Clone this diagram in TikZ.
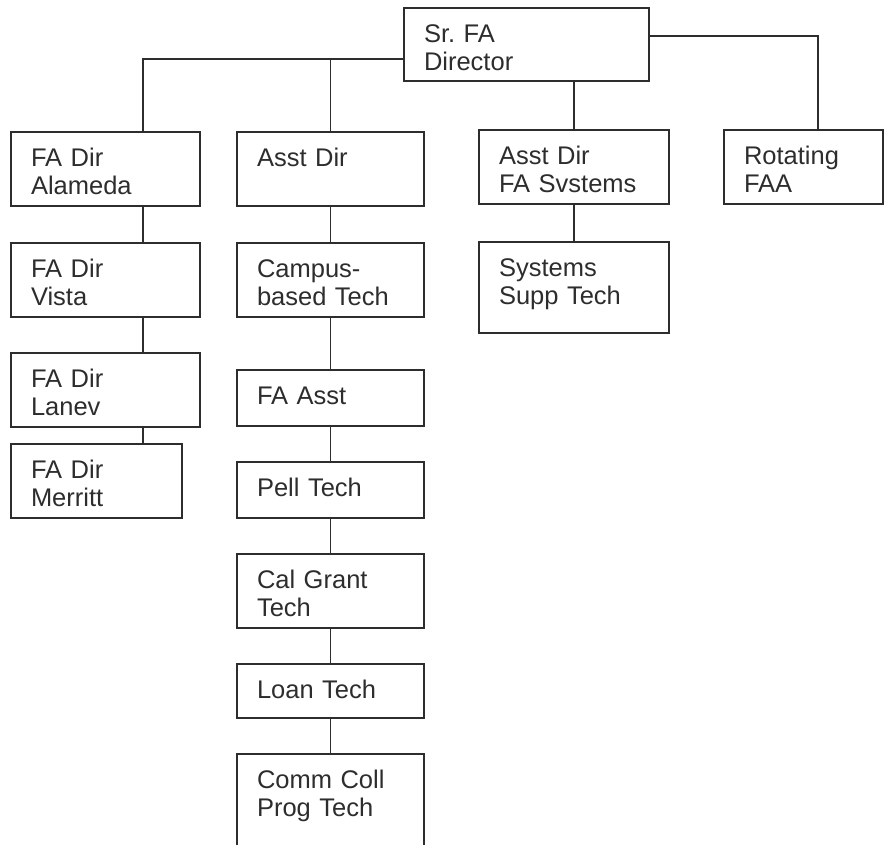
\documentclass[tikz,border=0pt]{standalone}
\usepackage{fontspec}
\setmainfont{Liberation Sans}
\usetikzlibrary{positioning}
\definecolor{inkgray}{RGB}{45,45,45}
\tikzset{
  post/.style={rectangle, draw=inkgray, line width=1.4pt, text=inkgray, outer sep=0pt,
               inner xsep=20pt, inner ysep=0pt, align=left, text width=147pt,
               text height=34pt, text depth=40pt, font=\fontsize{25.5}{28}\selectfont},
  shortpost/.style={post, text depth=22pt},
  link/.style={draw=inkgray, line width=1.4pt}
}

\begin{document}
\begin{tikzpicture}[x=1pt, y=1pt]
\useasboundingbox (0,0) rectangle (885,-844);
\node[post, text width=205pt, text depth=39pt, anchor=north west] (sr) at (404,-8) {Sr.\ FA\\ Director};
% left column
\node[post, text width=149pt, anchor=north west] (alameda) at (11,-132) {FA Dir\\ Alameda};
\node[post, text width=149pt, below=37pt of alameda] (vista) {FA Dir\\ Vista};
\node[post, text width=149pt, below=36pt of vista] (lanev) {FA Dir\\ Lanev};
\node[post, text width=131pt, below=17pt of lanev.south west, anchor=north west] (merritt) {FA Dir\\ Merritt};
% middle column
\node[post, anchor=north west] (asstdir) at (237,-132) {Asst Dir};
\node[post, below=37pt of asstdir] (campus) {Campus-\\ based Tech};
\node[shortpost, below=53pt of campus] (faasst) {FA Asst};
\node[shortpost, below=36pt of faasst] (pell) {Pell Tech};
\node[post, below=36pt of pell] (calgrant) {Cal Grant\\ Tech};
\node[shortpost, text depth=20pt, below=36pt of calgrant] (loan) {Loan Tech};
\node[post, text depth=66pt, below=36pt of loan] (comm) {Comm Coll\\ Prog Tech};
% right side
\node[post, text width=150pt, anchor=north west] (asstsys) at (479,-130) {Asst Dir\\ FA Svstems};
\node[post, text width=150pt, text depth=57pt, below=38pt of asstsys] (supp) {Systems\\ Supp Tech};
\node[post, text width=119pt, right=55pt of asstsys] (rotating) {Rotating\\ FAA};
% connectors
\coordinate (lx) at (143,-59);
\coordinate (rx) at (818,-36);
\draw[link] (sr.west |- lx) -| (alameda.north -| lx);
\draw[link] (asstdir.north) -- (asstdir.north |- lx);
\draw[link] (sr.south -| asstsys.north) -- (asstsys.north);
\draw[link] (sr.east |- rx) -| (rotating.north -| rx);
\draw[link] (alameda.south -| lx) -- (vista.north -| lx); \draw[link] (vista.south -| lx) -- (lanev.north -| lx); \draw[link] (lanev.south -| lx) -- (merritt.north -| lx);
\draw[link] (asstdir) -- (campus); \draw[link] (campus) -- (faasst); \draw[link] (faasst) -- (pell);
\draw[link] (pell) -- (calgrant); \draw[link] (calgrant) -- (loan); \draw[link] (loan) -- (comm);
\draw[link] (asstsys) -- (supp);
\end{tikzpicture}
\end{document}
